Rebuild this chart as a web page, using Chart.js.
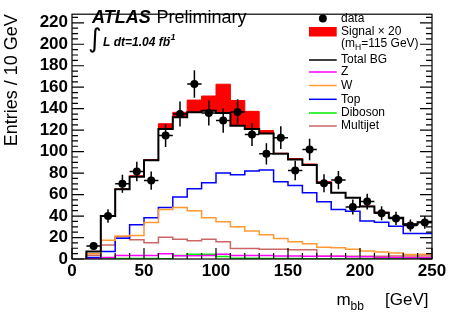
<!DOCTYPE html>
<html>
<head>
<meta charset="utf-8">
<script src="https://cdn.jsdelivr.net/npm/chart.js"></script>
<style>
  html, body { margin: 0; padding: 0; background: #fff; }
</style>
</head>
<body>
<canvas id="c" width="449" height="314"></canvas>
<script>
// m_bb histogram, 10 GeV bins from 10 to 250 GeV
const binEdges   = [10, 20, 30, 40, 50, 60, 70, 80, 90, 100, 110, 120, 130, 140, 150, 160, 170, 180, 190, 200, 210, 220, 230, 240, 250];
const binCentres = [15, 25, 35, 45, 55, 65, 75, 85, 95, 105, 115, 125, 135, 145, 155, 165, 175, 185, 195, 205, 215, 225, 235, 245];

const dataCounts = [12, 40, 70, 81.5, 73, 115, 135, 163, 136, 129, 137, 116, 98, 113, 82.5, 102, 70.5, 73.5, 48.5, 53.5, 42.5, 37.8, 31.3, 34];
const totalBG    = [7, 40, 65, 76.5, 92, 121, 132, 136.6, 138, 136, 124, 121, 117, 98, 92.6, 87.5, 71, 61.6, 57, 49, 43, 38.4, 32.4, 34.2];
const signalX20  = [0, 0, 0.3, 1, 0.5, 5, 4.6, 11.4, 13.8, 26.8, 23.6, 16.5, 2.6, 0.5, 1, 1, 1, 0.3, 0.3, 0.3, 0.6, 0.2, 0.2, 0.2];
const zJets      = [0.3, 1.5, 3.3, 3.3, 3.3, 5, 3, 3, 3.3, 4.5, 3.3, 3.3, 3.3, 2.8, 2.8, 2.5, 2.5, 2.5, 2, 2, 1.5, 1.5, 1.2, 1.2];
const wJets      = [5, 17.5, 21.4, 22, 34, 46, 48, 45, 38.4, 34.8, 30, 26, 22.6, 19, 16, 14.3, 11, 10.4, 9, 7.4, 6.5, 5.6, 4.2, 4.4];
const topQuark   = [1.5, 7, 19.4, 31.9, 38.4, 48, 57.8, 65.4, 71, 80, 78.5, 82, 83, 72, 68.5, 61.6, 53.3, 46, 44.4, 35.4, 34.2, 30.4, 23.8, 23.8];
const diboson    = [0, 0.3, 0.5, 0.5, 0.5, 0.3, 3.3, 4.5, 4.5, 2.4, 0.8, 0.8, 0.5, 0.4, 0.4, 0.3, 0.3, 0.3, 0.3, 0.3, 0.3, 0.3, 0.3, 0.3];
const multijet   = [3.5, 13, 20.8, 18, 15.2, 20.2, 18.5, 17, 18.5, 16, 9.8, 9.8, 9, 9, 8.5, 8.5, 2.5, 2.5, 2.5, 2.5, 2.5, 2.8, 2.8, 2.8];

const xTicks = [0, 50, 100, 150, 200, 250];
const yTicks = [0, 20, 40, 60, 80, 100, 120, 140, 160, 180, 200, 220];

// histogram outline as stepped points: start at the first low edge from zero
function steps(vals) {
  const pts = [{ x: binEdges[0], y: 0 }];
  vals.forEach((v, i) => pts.push({ x: binEdges[i + 1], y: v }));
  return pts;
}

function histLine(label, vals, color, width, order) {
  return {
    type: 'line', label, data: steps(vals), stepped: 'after',
    borderColor: color, borderWidth: width, pointRadius: 0, fill: false, order
  };
}

const FONT = '"Liberation Sans", Arial, Helvetica, sans-serif';

// ROOT-like frame, inward ticks, error bars, legend and labels
const atlasDecor = {
  id: 'atlasDecor',
  afterDatasetsDraw(chart) {
    const { ctx, scales: { x, y } } = chart;
    ctx.save();
    ctx.strokeStyle = '#000';
    ctx.lineWidth = 1.5;
    binCentres.forEach((c, i) => {
      const n = dataCounts[i], err = Math.sqrt(n);
      const px = x.getPixelForValue(c), py = y.getPixelForValue(n);
      ctx.beginPath();
      ctx.moveTo(x.getPixelForValue(c - 5), py);
      ctx.lineTo(x.getPixelForValue(c + 5), py);
      ctx.moveTo(px, y.getPixelForValue(n - err));
      ctx.lineTo(px, y.getPixelForValue(n + err));
      ctx.stroke();
    });
    ctx.restore();
  },
  afterDraw(chart) {
    const { ctx, chartArea: a, scales: { x, y } } = chart;
    ctx.save();
    ctx.strokeStyle = '#000';
    ctx.lineWidth = 1.2;
    ctx.strokeRect(a.left, a.top, a.right - a.left, a.bottom - a.top);

    ctx.beginPath();
    for (let v = 0; v <= 250; v += 10) {
      const px = x.getPixelForValue(v), len = v % 50 === 0 ? 11 : 6;
      ctx.moveTo(px, a.bottom); ctx.lineTo(px, a.bottom - len);
    }
    for (let v = 0; v <= y.max; v += 5) {
      const py = y.getPixelForValue(v), len = v % 20 === 0 ? 12 : 6;
      ctx.moveTo(a.left, py); ctx.lineTo(a.left + len, py);
      ctx.moveTo(a.right, py); ctx.lineTo(a.right - len, py);
    }
    ctx.stroke();

    // ATLAS label
    ctx.fillStyle = '#000';
    ctx.textBaseline = 'alphabetic';
    ctx.font = 'italic bold 18px ' + FONT;
    ctx.fillText('ATLAS', 92, 22.5);
    ctx.font = '18px ' + FONT;
    ctx.fillText('Preliminary', 156.5, 22.5);
    ctx.font = '26px "DejaVu Sans", sans-serif';
    ctx.fillText('\u222B', 88, 47);
    ctx.font = 'italic bold 12px ' + FONT;
    ctx.fillText('L dt=1.04 fb', 103, 46);
    ctx.font = 'italic bold 9px ' + FONT;
    ctx.fillText('-1', 167.5, 39.5);

    // axis title
    ctx.font = '17px ' + FONT;
    ctx.fillText('m', 336.5, 305);
    ctx.font = '12px ' + FONT;
    ctx.fillText('bb', 350.5, 309.5);
    ctx.font = '17px ' + FONT;
    ctx.fillText('[GeV]', 385, 305);

    // legend
    const lx0 = 309, lx1 = 336.7, tx = 341;
    ctx.font = '12px ' + FONT;
    ctx.textBaseline = 'middle';
    ctx.beginPath();
    ctx.arc((lx0 + lx1) / 2, 18.5, 4, 0, Math.PI * 2);
    ctx.fill();
    ctx.fillText('data', tx, 18.5);
    ctx.fillStyle = '#ff0000';
    ctx.fillRect(lx0, 27, lx1 - lx0, 9.5);
    ctx.fillStyle = '#000';
    ctx.fillText('Signal \u00D7 20', tx, 31.7);
    ctx.fillText('(m', tx, 43.3);
    let w = ctx.measureText('(m').width;
    ctx.font = '8.5px ' + FONT;
    ctx.fillText('H', tx + w, 47.5);
    const wh = ctx.measureText('H').width;
    ctx.font = '12px ' + FONT;
    ctx.fillText('=115 GeV)', tx + w + wh, 43.3);

    const rows = [
      ['Total BG', '#000000', 60],
      ['Z', '#ff00ff', 72],
      ['W', '#ff9933', 85.5],
      ['Top', '#0000ff', 99.3],
      ['Diboson', '#00ee00', 113],
      ['Multijet', '#cc6666', 126]
    ];
    rows.forEach(([t, col, ly]) => {
      ctx.strokeStyle = col;
      ctx.lineWidth = 1.5;
      ctx.beginPath(); ctx.moveTo(lx0, ly); ctx.lineTo(lx1, ly); ctx.stroke();
      ctx.fillStyle = '#000';
      ctx.fillText(t, tx, ly);
    });
    ctx.restore();
  }
};

new Chart(document.getElementById('c'), {
  type: 'line',
  data: {
    datasets: [
      {
        type: 'scatter', label: 'data',
        data: binCentres.map((c, i) => ({ x: c, y: dataCounts[i] })),
        pointRadius: 4, pointBackgroundColor: '#000', pointBorderWidth: 0,
        showLine: false, order: 0
      },
      histLine('Total BG', totalBG, '#000000', 2, 1),
      histLine('Z', zJets, '#ff00ff', 1.5, 2),
      histLine('W', wJets, '#ff9933', 1.5, 2),
      histLine('Top', topQuark, '#0000ff', 1.5, 2),
      histLine('Diboson', diboson, '#00ee00', 1.5, 2),
      histLine('Multijet', multijet, '#cc6666', 1.5, 2),
      {
        type: 'line', label: 'Signal x 20',
        data: steps(totalBG.map((b, i) => b + signalX20[i])), stepped: 'after',
        borderColor: '#ff0000', borderWidth: 1, pointRadius: 0,
        backgroundColor: '#ff0000', fill: 1, order: 10
      }
    ]
  },
  options: {
    responsive: false,
    animation: false,
    devicePixelRatio: 1,
    layout: { padding: { left: 0, top: 3, right: 17, bottom: 0 } },
    plugins: { legend: { display: false }, tooltip: { enabled: false } },
    scales: {
      x: {
        type: 'linear', min: 0, max: 250,
        grid: { display: false, drawTicks: false },
        border: { display: false },
        afterBuildTicks: s => { s.ticks = xTicks.map(v => ({ value: v })); },
        ticks: { color: '#000', padding: 2, maxRotation: 0, autoSkip: false, font: { family: FONT, size: 17, weight: 'bold' } },
        afterFit: s => { s.height = 55; }
      },
      y: {
        min: 0, max: 228,
        grid: { display: false, drawTicks: false },
        border: { display: false },
        afterBuildTicks: s => { s.ticks = yTicks.map(v => ({ value: v })); },
        ticks: { color: '#000', padding: 4, autoSkip: false, font: { family: FONT, size: 17, weight: 'bold' } },
        title: {
          display: true, text: 'Entries / 10 GeV', align: 'end', color: '#000',
          font: { family: FONT, size: 18 }, padding: { top: 1, bottom: 0 }
        },
        afterFit: s => { s.width = 72; }
      }
    }
  },
  plugins: [atlasDecor]
});
</script>
</body>
</html>
